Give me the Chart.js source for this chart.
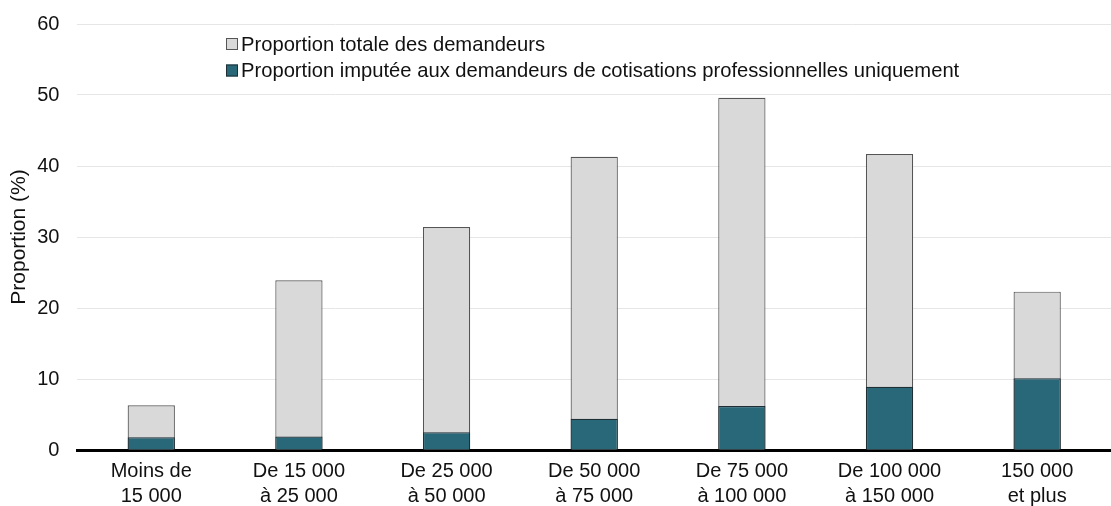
<!DOCTYPE html>
<html>
<head>
<meta charset="utf-8">
<script src="https://cdn.jsdelivr.net/npm/chart.js@4.4.1/dist/chart.umd.min.js"></script>
<style>
  body { margin: 0; background: #fff; }
</style>
</head>
<body>
<canvas id="chart" width="1111" height="506"></canvas>
<script>
// tranches de revenu
const categories = [
  ["Moins de", "15 000"],
  ["De 15 000", "à 25 000"],
  ["De 25 000", "à 50 000"],
  ["De 50 000", "à 75 000"],
  ["De 75 000", "à 100 000"],
  ["De 100 000", "à 150 000"],
  ["150 000", "et plus"]
];

const totalLabel = "Proportion totale des demandeurs";
const totalValues = [6.3, 23.9, 31.4, 41.3, 49.6, 41.7, 22.3];

const proLabel = "Proportion imputée aux demandeurs de cotisations professionnelles uniquement";
const proValues = [1.8, 1.9, 2.5, 4.4, 6.2, 8.9, 10.1];

const yTitle = "Proportion (%)";

const fontFamily = "'Liberation Sans', Arial, sans-serif";

// légende dessinée dans la zone du graphique
const insideLegend = {
  id: 'insideLegend',
  afterDraw(chart) {
    const ctx = chart.ctx;
    const x0 = 226;
    let y = 44;
    ctx.save();
    ctx.font = "20.2px " + fontFamily;
    ctx.textBaseline = 'middle';
    chart.data.datasets.forEach(ds => {
      ctx.fillStyle = ds.backgroundColor;
      ctx.fillRect(x0, y - 6, 12, 12);
      ctx.strokeStyle = ds.borderColor;
      ctx.lineWidth = 1;
      ctx.strokeRect(x0 + 0.5, y - 5.5, 11, 11);
      ctx.fillStyle = '#111';
      ctx.fillText(ds.label, x0 + 15, y + 1);
      y += 26.5;
    });
    ctx.restore();
  }
};

const datas = {
  labels: categories,
  datasets: [
    {
      label: totalLabel,
      data: totalValues,
      backgroundColor: '#d9d9d9',
      borderColor: '#555555',
      borderWidth: 1.2,
      grouped: false,
      order: 2,
      barPercentage: 0.32,
      categoryPercentage: 1
    },
    {
      label: proLabel,
      data: proValues,
      backgroundColor: '#286878',
      borderColor: '#1f2f35',
      borderWidth: 1.2,
      grouped: false,
      order: 1,
      barPercentage: 0.32,
      categoryPercentage: 1
    }
  ]
};

const config = {
  type: 'bar',
  data: datas,
  plugins: [insideLegend],
  options: {
    responsive: false,
    animation: false,
    layout: { padding: { top: 0, right: 0, bottom: -4, left: -1 } },
    plugins: {
      legend: { display: false },
      tooltip: { enabled: false }
    },
    scales: {
      x: {
        grid: { display: false },
        border: { display: true, color: '#000', width: 3 },
        ticks: {
          color: '#111',
          font: { family: fontFamily, size: 20, lineHeight: 1.25 },
          maxRotation: 0,
          padding: 1
        }
      },
      y: {
        min: 0,
        max: 60,
        border: { display: false },
        grid: { color: '#e6e6e6', lineWidth: 1, drawTicks: false },
        ticks: {
          stepSize: 10,
          color: '#111',
          font: { family: fontFamily, size: 20, lineHeight: 0.6 },
          padding: 18
        },
        title: {
          display: true,
          text: yTitle,
          color: '#111',
          font: { family: fontFamily, size: 21 },
          padding: { top: 8, bottom: -13 }
        }
      }
    }
  }
};

const myChart = new Chart(document.getElementById('chart'), config);
</script>
</body>
</html>
